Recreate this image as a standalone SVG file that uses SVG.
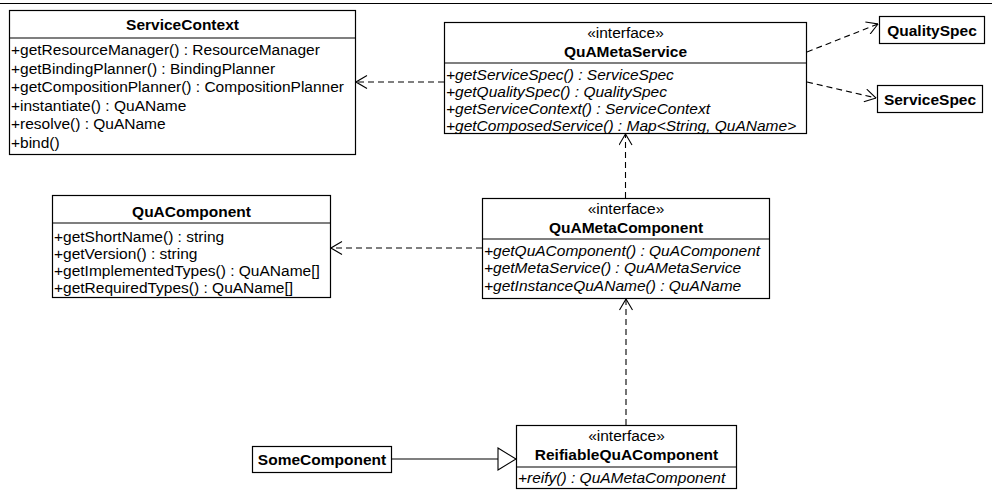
<svg xmlns="http://www.w3.org/2000/svg" width="992" height="492" viewBox="0 0 992 492">
  <style>
    .box { fill: #fff; stroke: #000; stroke-width: 1.2; }
    .sep { stroke: #000; stroke-width: 1.2; }
    text { font-family: "Liberation Sans", Arial, sans-serif; font-size: 15.5px; fill: #000; }
    .title { font-weight: bold; text-anchor: middle; }
    .stereo { text-anchor: middle; }
    .abs { font-style: italic; }
    .dep { fill: none; stroke: #000; stroke-width: 1.1; stroke-dasharray: 6 4; }
    .solid { fill: none; stroke: #000; stroke-width: 1.1; }
  </style>
  <defs>
    <marker id="open" viewBox="0 0 12 14" refX="11.5" refY="7" markerWidth="12" markerHeight="14" markerUnits="userSpaceOnUse" orient="auto">
      <path d="M0.5,0.5 L11.5,7 L0.5,13.5" fill="none" stroke="#000" stroke-width="1.1"/>
    </marker>
    <marker id="hollow" viewBox="0 0 20 24" refX="19" refY="12" markerWidth="20" markerHeight="24" markerUnits="userSpaceOnUse" orient="auto">
      <path d="M1,1 L19,12 L1,23 Z" fill="#fff" stroke="#000" stroke-width="1.1"/>
    </marker>
  </defs>

  <rect width="992" height="492" fill="#fff"/>
  <line x1="0" y1="3.5" x2="992" y2="3.5" stroke="#000" stroke-width="1.2"/>

  <!-- connectors -->
  <g id="connectors">
    <line class="dep" x1="444" y1="82" x2="356" y2="82" marker-end="url(#open)"/>
    <line class="dep" x1="807" y1="52" x2="878" y2="24" marker-end="url(#open)"/>
    <line class="dep" x1="807" y1="82" x2="876" y2="98" marker-end="url(#open)"/>
    <line class="dep" x1="625.5" y1="198" x2="625.5" y2="134" marker-end="url(#open)"/>
    <line class="dep" x1="482" y1="248" x2="331" y2="248" marker-end="url(#open)"/>
    <line class="dep" x1="626" y1="425" x2="626" y2="299" marker-end="url(#open)"/>
    <line class="solid" x1="391" y1="459" x2="516" y2="459" marker-end="url(#hollow)"/>
  </g>

  <!-- ServiceContext -->
  <g id="ServiceContext">
    <rect class="box" x="9.5" y="10.5" width="346" height="144"/>
    <line class="sep" x1="9.5" y1="38" x2="355.5" y2="38"/>
    <text class="title" x="182.5" y="30">ServiceContext</text>
    <text x="11" y="55">+getResourceManager() : ResourceManager</text>
    <text x="11" y="73.5">+getBindingPlanner() : BindingPlanner</text>
    <text x="11" y="92">+getCompositionPlanner() : CompositionPlanner</text>
    <text x="11" y="110.5">+instantiate() : QuAName</text>
    <text x="11" y="129">+resolve() : QuAName</text>
    <text x="11" y="147.5">+bind()</text>
  </g>

  <!-- QuAMetaService -->
  <g id="QuAMetaService">
    <rect class="box" x="444.5" y="22.5" width="362" height="111"/>
    <line class="sep" x1="444.5" y1="63" x2="806.5" y2="63"/>
    <text class="stereo" x="625.5" y="38">«interface»</text>
    <text class="title" x="625.5" y="57">QuAMetaService</text>
    <text class="abs" x="446" y="80">+getServiceSpec() : ServiceSpec</text>
    <text class="abs" x="446" y="97">+getQualitySpec() : QualitySpec</text>
    <text class="abs" x="446" y="114">+getServiceContext() : ServiceContext</text>
    <text class="abs" x="446" y="130.5">+getComposedService() : Map&lt;String, QuAName&gt;</text>
  </g>

  <!-- QualitySpec -->
  <g id="QualitySpec">
    <rect class="box" x="879.5" y="16.5" width="105" height="27"/>
    <text class="title" x="932" y="35.5">QualitySpec</text>
  </g>

  <!-- ServiceSpec -->
  <g id="ServiceSpec">
    <rect class="box" x="877.5" y="85.5" width="105" height="27"/>
    <text class="title" x="930" y="104.5">ServiceSpec</text>
  </g>

  <!-- QuAComponent -->
  <g id="QuAComponent">
    <rect class="box" x="52.5" y="195.5" width="278" height="102"/>
    <line class="sep" x1="52.5" y1="223" x2="330.5" y2="223"/>
    <text class="title" x="191.5" y="217">QuAComponent</text>
    <text x="54" y="242">+getShortName() : string</text>
    <text x="54" y="259">+getVersion() : string</text>
    <text x="54" y="276">+getImplementedTypes() : QuAName[]</text>
    <text x="54" y="293">+getRequiredTypes() : QuAName[]</text>
  </g>

  <!-- QuAMetaComponent -->
  <g id="QuAMetaComponent">
    <rect class="box" x="482.5" y="198.5" width="287" height="100"/>
    <line class="sep" x1="482.5" y1="239" x2="769.5" y2="239"/>
    <text class="stereo" x="626" y="214">«interface»</text>
    <text class="title" x="626" y="233">QuAMetaComponent</text>
    <text class="abs" x="484" y="255.5">+getQuAComponent() : QuAComponent</text>
    <text class="abs" x="484" y="273">+getMetaService() : QuAMetaService</text>
    <text class="abs" x="484" y="290.5">+getInstanceQuAName() : QuAName</text>
  </g>

  <!-- SomeComponent -->
  <g id="SomeComponent">
    <rect class="box" x="252.5" y="446.5" width="139" height="26"/>
    <text class="title" x="322" y="465">SomeComponent</text>
  </g>

  <!-- ReifiableQuAComponent -->
  <g id="ReifiableQuAComponent">
    <rect class="box" x="516.5" y="425.5" width="220" height="63"/>
    <line class="sep" x1="516.5" y1="467" x2="736.5" y2="467"/>
    <text class="stereo" x="626.5" y="441">«interface»</text>
    <text class="title" x="626.5" y="460">ReifiableQuAComponent</text>
    <text class="abs" x="518" y="483">+reify() : QuAMetaComponent</text>
  </g>
</svg>
